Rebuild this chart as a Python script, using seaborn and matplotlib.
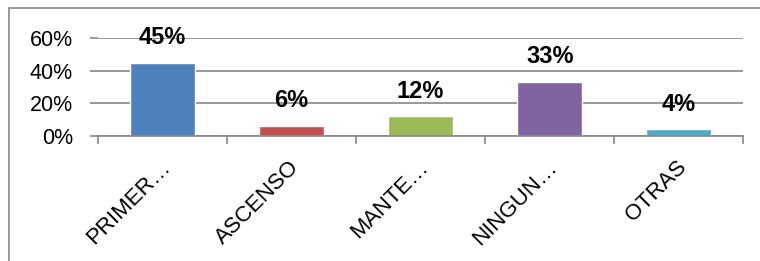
import matplotlib
matplotlib.use("Agg")
import matplotlib.pyplot as plt
import matplotlib.transforms as mtransforms
from matplotlib.patches import Rectangle
import seaborn as sns
import pandas as pd

# chart data
categories = ["PRIMER…", "ASCENSO", "MANTE…", "NINGUN…", "OTRAS"]
values = [0.45, 0.06, 0.12, 0.33, 0.04]
value_labels = ["45%", "6%", "12%", "33%", "4%"]
y_ticks = [0, 0.2, 0.4, 0.6]
y_tick_labels = ["0%", "20%", "40%", "60%"]
bar_colors = ["#4F81BD", "#C0504D", "#9BBB59", "#8064A2", "#4BACC6"]

df = pd.DataFrame({"cat": categories, "val": values})

sns.set_style("white")
plt.rcParams["font.family"] = ["Liberation Sans", "DejaVu Sans"]
plt.rcParams["text.color"] = "black"
plt.rcParams["xtick.color"] = "black"
plt.rcParams["ytick.color"] = "black"

fig = plt.figure(figsize=(7.6, 2.61), dpi=100)
ax = fig.add_axes([0.129, 0.479, 0.849, 0.375])

sns.barplot(data=df, x="cat", y="val", hue="cat", palette=bar_colors,
            width=0.5, legend=False, ax=ax, saturation=1)

ax.set_xlim(-0.5, len(categories) - 0.5)
ax.set_ylim(0, 0.6)
ax.set_yticks(y_ticks)
ax.set_yticklabels(y_tick_labels, fontsize=15.5)
ax.yaxis.grid(True, color="#868686", linewidth=1.2)
ax.set_axisbelow(True)
ax.set_xlabel("")
ax.set_ylabel("")

for s in ["top", "right", "left"]:
    ax.spines[s].set_visible(False)
ax.spines["bottom"].set_color("#868686")
ax.spines["bottom"].set_linewidth(1.2)

ax.tick_params(axis="y", left=True, length=6, width=1.2, color="#868686",
               pad=12)
ax.set_xticks(range(len(categories)))
ax.set_xticklabels(categories, rotation=45, ha="right", rotation_mode="anchor",
                   fontsize=16)
ax.tick_params(axis="x", which="major", bottom=True, length=0, pad=15)
ax.set_xticks([i - 0.5 for i in range(len(categories) + 1)], minor=True)
ax.tick_params(axis="x", which="minor", bottom=True, length=6, width=1.2,
               color="#868686")

offset = mtransforms.ScaledTranslation(-0.03, 0, fig.dpi_scale_trans)
for lab in ax.get_xticklabels():
    lab.set_transform(lab.get_transform() + offset)

# one container per hue level, in category order
for i, cont in enumerate(ax.containers):
    ax.bar_label(cont, labels=[value_labels[i]], padding=10, fontsize=17,
                 fontweight="bold", color="black")

# outer chart frame
fig.add_artist(Rectangle((9 / 760, -0.1), 1.2, 1 - 8 / 261 + 0.1,
                         transform=fig.transFigure, fill=False,
                         edgecolor="#868686", linewidth=1.2))

fig.savefig("out.png", dpi=100)
